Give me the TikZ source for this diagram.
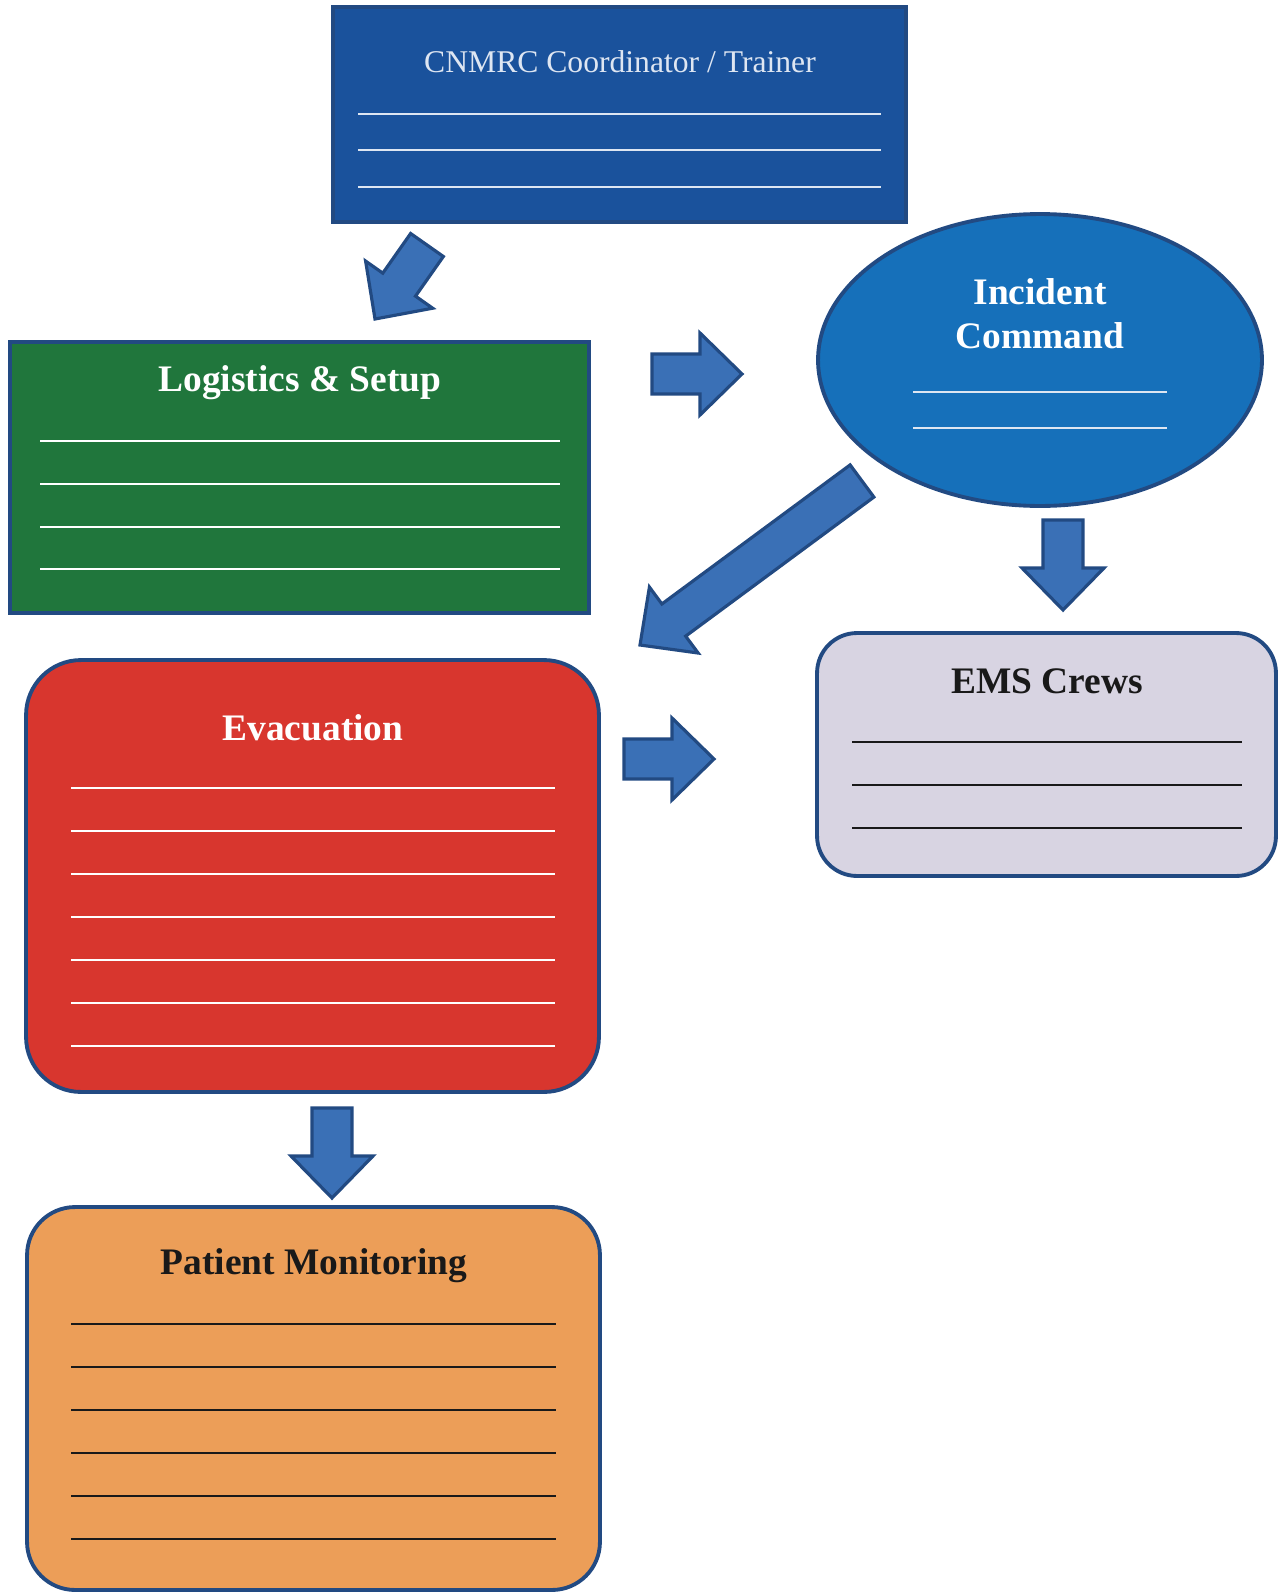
\documentclass[tikz,border=0pt]{standalone}
\usepackage{fontspec}
\setmainfont{Liberation Serif}
\usetikzlibrary{calc,shapes.geometric}

\definecolor{coordblue}{RGB}{26,82,156}
\definecolor{cmdblue}{RGB}{22,112,186}
\definecolor{arrowblue}{RGB}{58,112,182}
\definecolor{edgeblue}{RGB}{34,74,130}
\definecolor{logigreen}{RGB}{32,118,60}
\definecolor{evacred}{RGB}{216,54,46}
\definecolor{emsgray}{RGB}{216,212,226}
\definecolor{monorange}{RGB}{236,158,88}
\definecolor{paleline}{RGB}{222,230,242}

% block arrow from tail coordinate #1 to tip coordinate #2
\newcommand\flowarrow[2]{%
  \coordinate (#1n) at ($(#2)!0.84cm!(#1)$);
  \filldraw[fill=arrowblue, draw=edgeblue, line width=1.8pt, line join=miter]
    ($(#1)!0.4cm!90:(#2)$) -- ($(#1n)!0.4cm!90:(#2)$) -- ($(#1n)!0.82cm!90:(#2)$)
    -- (#2) -- ($(#1n)!0.82cm!-90:(#2)$) -- ($(#1n)!0.4cm!-90:(#2)$)
    -- ($(#1)!0.4cm!-90:(#2)$) -- cycle;
}

\begin{document}
\begin{tikzpicture}[x=0.02cm,y=-0.02cm,
  panel/.style={draw=edgeblue, line width=2.2pt, inner sep=0pt, outer sep=0pt},
  heading/.style={font=\fontsize{21.3}{25}\selectfont\bfseries, inner sep=0pt, align=center},
  rule/.style={line width=1.5pt},
]
\useasboundingbox (0,0) rectangle (1279,1592);

% coordinator panel
\node[panel, fill=coordblue, minimum width=11.46cm, minimum height=4.30cm] (coord) at (619.5,114.5) {};
\node[font=\fontsize{18}{21}\selectfont, text=paleline, inner sep=0pt] (coordT) at (620,62) {CNMRC Coordinator / Trainer};
\foreach \y in {114,150,187} \draw[paleline, line width=0.9pt] (358,\y) -- (881,\y);

% logistics panel
\node[panel, fill=logigreen, minimum width=11.58cm, minimum height=5.42cm] (logi) at (299.5,477.5) {};
\node[heading, text=white] (logiT) at (300,383) {Logistics \& Setup};
\foreach \y in {441,484,527,569} \draw[white, rule] (40,\y) -- (560,\y);

% incident command
\node[panel, ellipse, fill=cmdblue, minimum width=8.88cm, minimum height=5.84cm] (cmd) at (1040,360) {};
\node[heading, text=white] (cmdT) at (1040,314) {Incident\\Command};
\foreach \y in {392,428} \draw[paleline, line width=1.1pt] (913,\y) -- (1167,\y);

% EMS crews
\node[panel, rounded corners=0.8cm, fill=emsgray, minimum width=9.18cm, minimum height=4.86cm] (ems) at (1046.5,754.5) {};
\node[heading, text=black!90] (emsT) at (1047,681) {EMS Crews};
\foreach \y in {742,785,828} \draw[black!90, rule] (852,\y) -- (1242,\y);

% evacuation
\node[panel, rounded corners=1.1cm, fill=evacred, minimum width=11.46cm, minimum height=8.64cm] (evac) at (312.5,876) {};
\node[heading, text=white] (evacT) at (313,728) {Evacuation};
\foreach \y in {788,831,874,917,960,1003,1046} \draw[white, rule] (71,\y) -- (555,\y);

% patient monitoring
\node[panel, rounded corners=0.96cm, fill=monorange, minimum width=11.46cm, minimum height=7.66cm] (mon) at (313.5,1398.5) {};
\node[heading, text=black!90] (monT) at (314,1266) {Patient Monitoring};
\foreach \y in {1324,1367,1410,1453,1496,1539} \draw[black!90, rule] (71,\y) -- (556,\y);

% arrow end points
\coordinate (a1t) at (427,245);  \coordinate (a1h) at (375,319);
\coordinate (a2t) at (652,374);  \coordinate (a2h) at (742,374);
\coordinate (a3t) at (862,481);  \coordinate (a3h) at (640,645);
\coordinate (a4t) at (1063,520); \coordinate (a4h) at (1063,610);
\coordinate (a5t) at (624,759);  \coordinate (a5h) at (714,759);
\coordinate (a6t) at (332,1108); \coordinate (a6h) at (332,1198);

\flowarrow{a1t}{a1h}
\flowarrow{a2t}{a2h}
\flowarrow{a3t}{a3h}
\flowarrow{a4t}{a4h}
\flowarrow{a5t}{a5h}
\flowarrow{a6t}{a6h}
\end{tikzpicture}
\end{document}
